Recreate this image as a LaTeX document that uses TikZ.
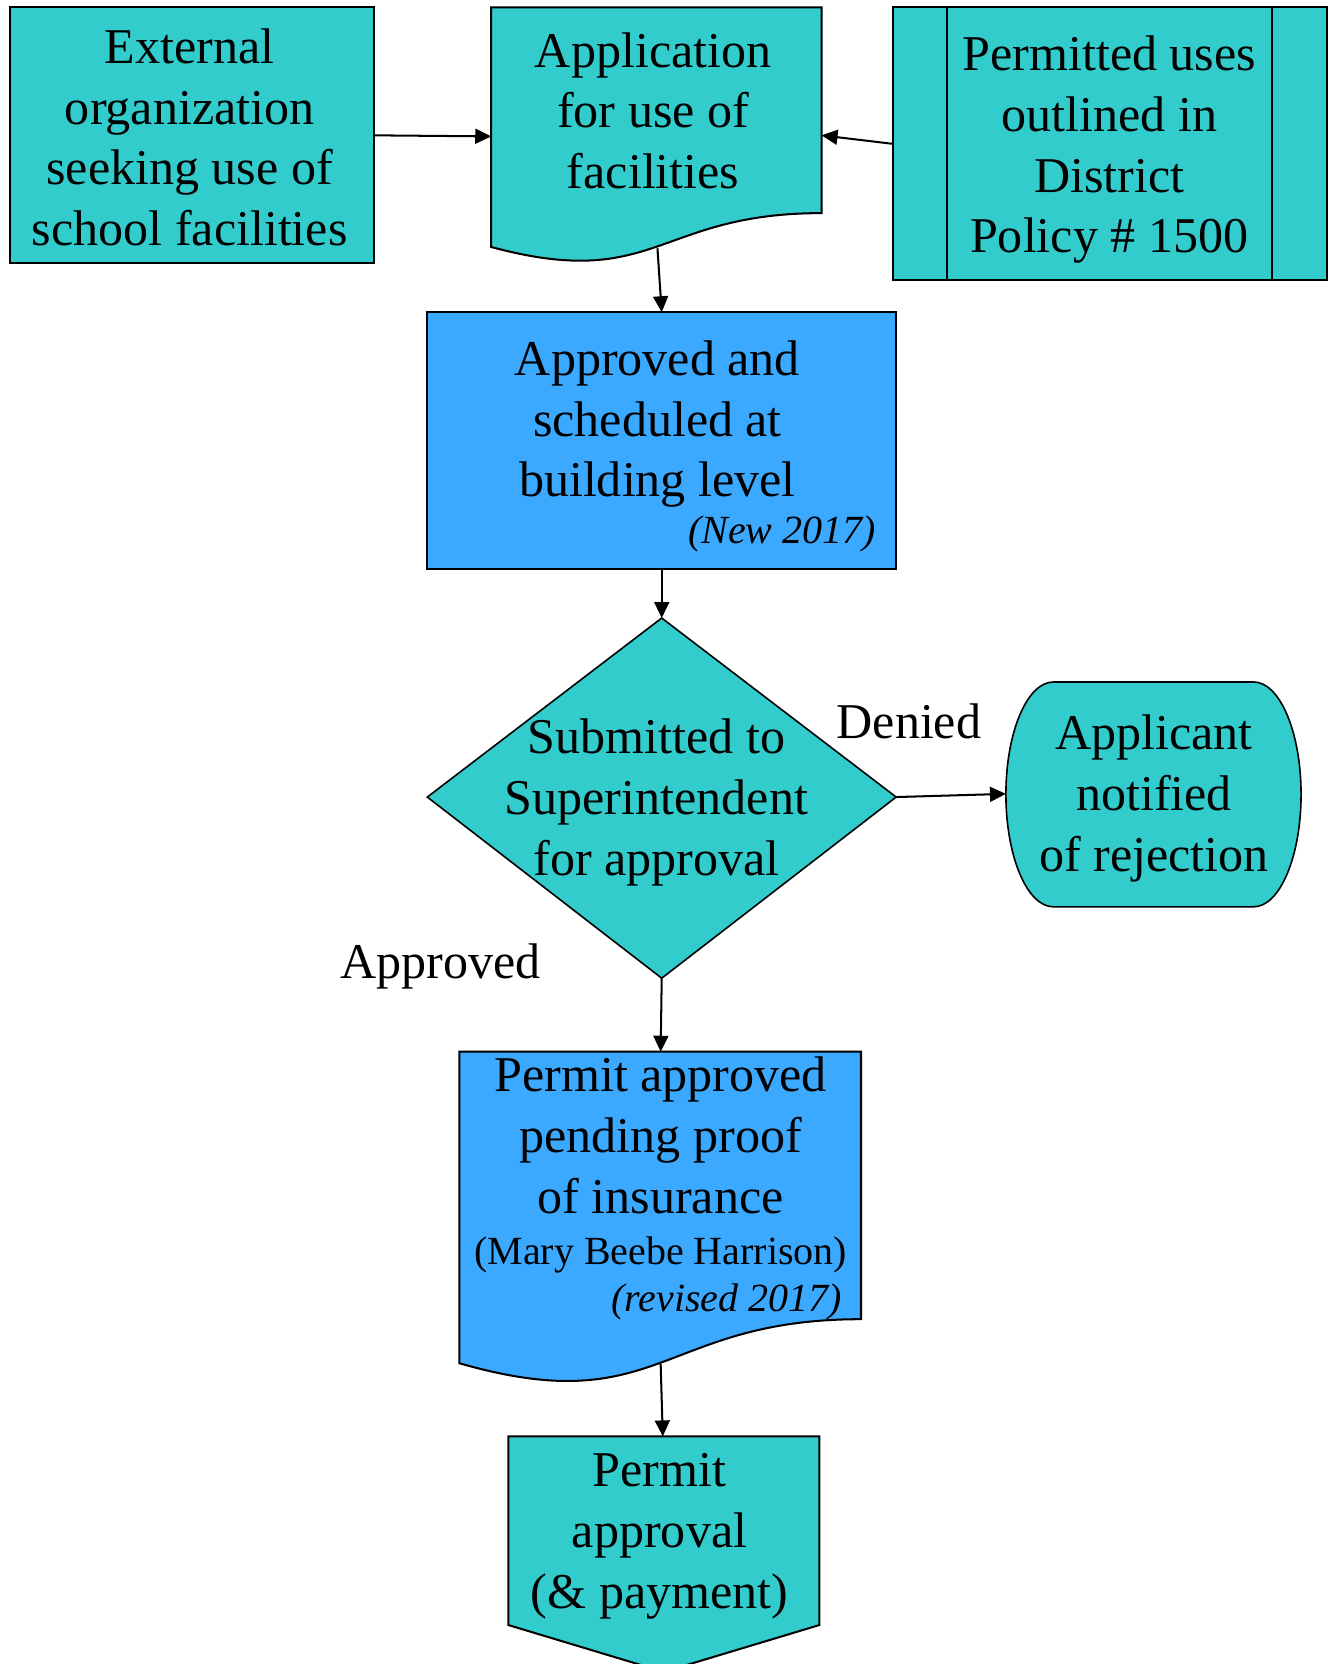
\documentclass[tikz,border=0pt]{standalone}
\usepackage{fontspec}
\setmainfont{Liberation Serif}
\usetikzlibrary{arrows.meta}
\definecolor{tealfill}{HTML}{33CCCC}
\definecolor{bluefill}{HTML}{3BA9FF}
\begin{document}
\begin{tikzpicture}[x=1pt,y=1pt,
  shp/.style={draw=black, line width=1.9pt},
  big/.style={align=center, inner sep=0pt, font=\fontsize{47}{57}\selectfont},
  small/.style={inner sep=0pt, font=\fontsize{37.5}{45}\selectfont},
  arr/.style={-{Triangle[length=15pt,width=14pt]}, line width=1.9pt}]
\useasboundingbox (0,0) rectangle (1250,-1561.6);
% ---- shapes ----
\node[shp, fill=tealfill, minimum width=342pt, minimum height=240pt, inner sep=0pt, outer sep=0pt] (ext) at (180,-127) {};
\path[shp, fill=tealfill] (461,-7) -- (771,-7) -- (771,-200) .. controls (616,-200) and (616,-273.6) .. (461,-231.8) -- cycle;
\coordinate (appL) at (461,-128);
\coordinate (appR) at (771,-127);
\coordinate (appB) at (617,-233);
\node[shp, fill=tealfill, minimum width=407pt, minimum height=256pt, inner sep=0pt, outer sep=0pt] (pol) at (1041.5,-135) {};
\draw[shp] (889,-7) -- (889,-263);
\draw[shp] (1194,-7) -- (1194,-263);
\node[shp, fill=bluefill, minimum width=440pt, minimum height=241pt, inner sep=0pt, outer sep=0pt] (bld) at (621,-413.5) {};
\path[shp, fill=tealfill, line width=1.5pt] (621,-580) -- (841,-748) -- (621,-918) -- (401,-748) -- cycle;
\coordinate (subT) at (621,-580);
\coordinate (subR) at (841,-748);
\coordinate (subB) at (621,-918);
\path[shp, fill=tealfill, line width=1.5pt] (988.6,-640) -- (1176.4,-640) arc[start angle=90, end angle=-90, x radius=44.6, y radius=105.5] -- (988.6,-851) arc[start angle=270, end angle=90, x radius=44.6, y radius=105.5] -- cycle;
\coordinate (rejL) at (944,-745);
\path[shp, fill=bluefill] (431,-987) -- (808,-987) -- (808,-1238) .. controls (619.5,-1238) and (619.5,-1333.6) .. (431,-1279.3) -- cycle;
\coordinate (pmtT) at (620,-987);
\coordinate (pmtB) at (620,-1280);
\path[shp, fill=tealfill] (477,-1348) -- (769,-1348) -- (769,-1525) -- (623,-1569) -- (477,-1525) -- cycle;
\coordinate (finT) at (622,-1348);
% ---- texts ----
\node[big] (t-ext) at (178,-133.5) {\strut External\\organization\\seeking use of\\school facilities\strut};
\node[big] (t-app) at (613,-108.5) {\strut Application\\for use of\\facilities\strut};
\node[big] (t-pol) at (1041,-140.5) {\strut Permitted uses\\outlined in\\District\\Policy \# 1500\strut};
\node[big] (t-bld) at (617,-398) {\strut Approved and\\scheduled at\\building level\strut};
\node[small, anchor=east] (t-new) at (822,-501) {\itshape\strut(New 2017)};
\node[big] (t-sub) at (616,-753) {\strut Submitted to\\Superintendent\\for approval\strut};
\node[big] (t-rej) at (1083,-749) {\strut Applicant\\notified\\of rejection\strut};
\node[big] (l-den) at (853,-682) {\strut Denied};
\node[big] (l-app) at (413.5,-907) {\strut Approved};
\node[big] (t-pmt) at (620,-1070) {\strut Permit approved\\pending proof\\of insurance\strut};
\node[small] (t-mary) at (620,-1178) {\strut(Mary Beebe Harrison)};
\node[small, anchor=east] (t-rev) at (790,-1222) {\itshape\strut(revised 2017)};
\node[big] (t-fin) at (619,-1441) {\strut Permit\\approval\\(\& payment)\strut};
% ---- connectors ----
\draw[arr] (ext.east) -- (appL);
\draw[arr] (pol.west) -- (appR);
\draw[arr] (appB) -- (bld.north);
\draw[arr] (bld.south) -- (subT);
\draw[arr] (subR) -- (rejL);
\draw[arr] (subB) -- (pmtT);
\draw[arr] (pmtB) -- (finT);
\end{tikzpicture}
\end{document}
